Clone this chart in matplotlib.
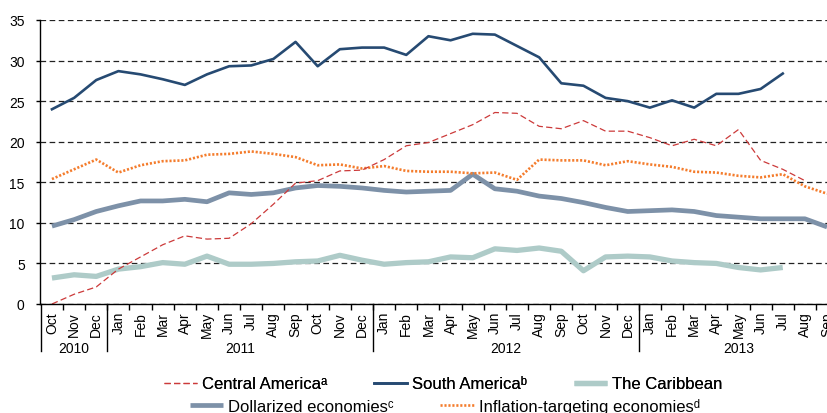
import numpy as np
import matplotlib.pyplot as plt
import matplotlib.transforms as mtransforms

nan = np.nan

months = ["Oct", "Nov", "Dec",
          "Jan", "Feb", "Mar", "Apr", "May", "Jun", "Jul", "Aug", "Sep", "Oct", "Nov", "Dec",
          "Jan", "Feb", "Mar", "Apr", "May", "Jun", "Jul", "Aug", "Sep", "Oct", "Nov", "Dec",
          "Jan", "Feb", "Mar", "Apr", "May", "Jun", "Jul", "Aug", "Sep"]
years = ["2010", "2011", "2012", "2013"]
year_len = [3, 12, 12, 9]

central_america = [0.0, 1.2, 2.1, 4.3, 5.8, 7.3, 8.4, 8.0, 8.1, 9.9, 12.3, 14.9,
                   15.2, 16.4, 16.5, 17.8, 19.5, 19.9, 21.0, 22.1, 23.6, 23.5, 21.9, 21.6,
                   22.6, 21.3, 21.3, 20.5, 19.5, 20.3, 19.5, 21.5, 17.7, 16.6, 15.2, nan]
south_america = [24.0, 25.4, 27.6, 28.7, 28.3, 27.7, 27.0, 28.3, 29.3, 29.4, 30.2, 32.3,
                 29.3, 31.4, 31.6, 31.6, 30.7, 33.0, 32.5, 33.3, 33.2, 31.8, 30.4, 27.2,
                 26.9, 25.4, 25.0, 24.2, 25.1, 24.2, 25.9, 25.9, 26.5, 28.4, nan, nan]
caribbean = [3.2, 3.6, 3.4, 4.3, 4.6, 5.1, 4.9, 5.9, 4.9, 4.9, 5.0, 5.2,
             5.3, 6.0, 5.4, 4.9, 5.1, 5.2, 5.8, 5.7, 6.8, 6.6, 6.9, 6.5,
             4.1, 5.8, 5.9, 5.8, 5.3, 5.1, 5.0, 4.5, 4.2, 4.5, nan, nan]
dollarized = [9.6, 10.4, 11.4, 12.1, 12.7, 12.7, 12.9, 12.6, 13.7, 13.5, 13.7, 14.3,
              14.6, 14.5, 14.3, 14.0, 13.8, 13.9, 14.0, 16.0, 14.2, 13.9, 13.3, 13.0,
              12.5, 11.9, 11.4, 11.5, 11.6, 11.4, 10.9, 10.7, 10.5, 10.5, 10.5, 9.5]
inflation_targeting = [15.4, 16.6, 17.8, 16.2, 17.1, 17.6, 17.7, 18.4, 18.5, 18.8, 18.5, 18.1,
                       17.1, 17.2, 16.7, 17.0, 16.4, 16.3, 16.3, 16.1, 16.2, 15.3, 17.8, 17.7,
                       17.7, 17.1, 17.6, 17.2, 16.9, 16.3, 16.2, 15.8, 15.6, 16.0, 14.5, 13.6]

plt.rcParams['font.family'] = ['Liberation Sans', 'DejaVu Sans']

fig = plt.figure(figsize=(8.28, 4.14), dpi=100)
ax = fig.add_axes([40/828, 109/414, 799/828, 284/414])

x = np.arange(len(months))

# thick lines first, thin ones on top
l_car, = ax.plot(x, caribbean, color="#aecbc8", lw=3.8, solid_capstyle="butt", label="The Caribbean\u1d43"[:-1])
l_dol, = ax.plot(x, dollarized, color="#7d91a8", lw=3.4, solid_capstyle="butt", label="Dollarized economies\u1d9c")
l_inf, = ax.plot(x, inflation_targeting, color="#f47c2c", lw=1.9, linestyle=(0, (0.8, 0.7)),
                 label="Inflation-targeting economies\u1d48")
l_cen, = ax.plot(x, central_america, color="#cc3a3a", lw=0.9, linestyle=(0, (5, 2.6)),
                 label="Central America\u1d43")
l_sou, = ax.plot(x, south_america, color="#264a72", lw=1.9, label="South America\u1d47")

ax.set_ylim(0, 35)
ax.set_xlim(-0.54, len(months) - 0.46)
ax.set_yticks(np.arange(0, 36, 5))
ax.yaxis.grid(True, color="#222222", lw=0.9, linestyle=(0, (4.5, 2.8)))
ax.set_axisbelow(True)
for s in ["top", "right"]:
    ax.spines[s].set_visible(False)
ax.spines["left"].set_linewidth(1.0)
ax.spines["bottom"].set_linewidth(1.0)

ax.set_xticks(x)
ax.set_xticklabels(months, rotation=90, fontsize=10)
ax.tick_params(axis="x", which="major", length=0, pad=5)
ax.set_xticks(x[1:] - 0.5, minor=True)
ax.tick_params(axis="x", which="minor", length=4, width=1.0)
ax.tick_params(axis="y", labelsize=10, length=3, width=1.0, pad=8)

# year separators and labels below the month labels
trans = mtransforms.blended_transform_factory(ax.transData, ax.transAxes)
depth = -47 / 284
start = -0.5
for yr, n in zip(years, year_len):
    ax.plot([start, start], [0, depth], color="black", lw=1.0, transform=trans, clip_on=False)
    ax.text(start + n / 2, depth + 0.01, yr, transform=trans, ha="center", va="center", fontsize=10)
    start += n

leg_font = {"family": ["Liberation Sans Narrow", "Liberation Sans", "DejaVu Sans"], "size": 12}
leg1 = fig.legend([l_cen, l_sou, l_car], ["Central America\u1d43", "South America\u1d47", "The Caribbean"],
                  loc="center", bbox_to_anchor=(0.535, 1 - 385/414), ncol=3, frameon=False,
                  prop=leg_font, handlelength=2.0, handletextpad=0.3, columnspacing=2.8)
leg2 = fig.legend([l_dol, l_inf], ["Dollarized economies\u1d9c", "Inflation-targeting economies\u1d48"],
                  loc="center", bbox_to_anchor=(0.537, 1 - 407/414), ncol=2, frameon=False,
                  prop=leg_font, handlelength=2.0, handletextpad=0.3, columnspacing=2.8)
fig.add_artist(leg1)

fig.savefig("out.png", dpi=100)
